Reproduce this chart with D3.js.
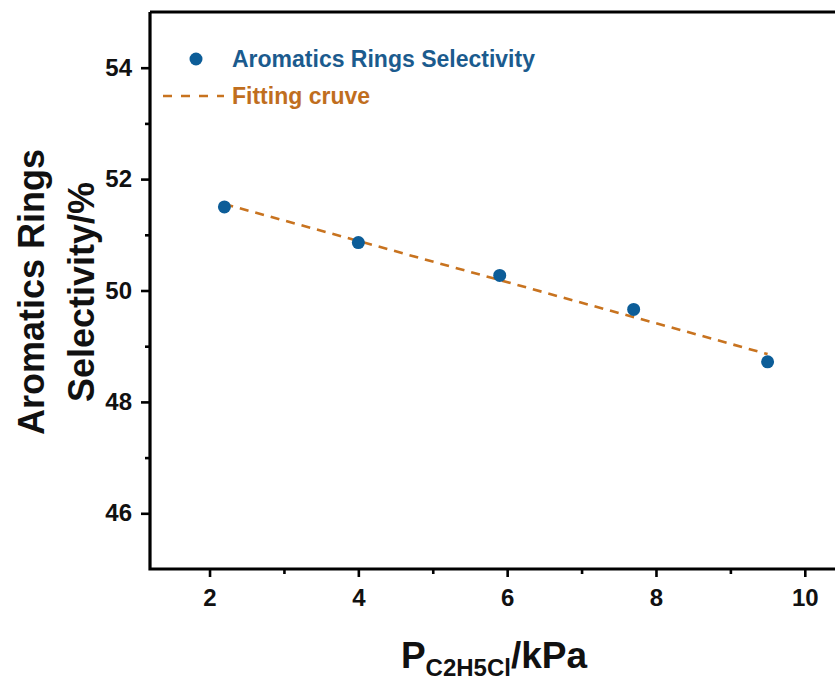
<!DOCTYPE html>
<html><head><meta charset="utf-8">
<script src="https://cdn.jsdelivr.net/npm/d3@7"></script>
<style>body{margin:0;background:#fff}svg{display:block}text{font-family:"Liberation Sans",Arial,sans-serif;font-weight:bold}</style>
</head><body><svg id="c" width="835" height="680"></svg>
<script>
const pressure = [2.2, 4.0, 5.9, 7.7, 9.5];
const selectivity = [51.5, 50.86, 50.27, 49.66, 48.72];
const xTicks = [2, 4, 6, 8, 10];
const yTicks = [46, 48, 50, 52, 54];
const seriesName = "Aromatics Rings Selectivity";
const fitName = "Fitting cruve";

const svg = d3.select("#c");
const L = 150, T = 12, B = 569, R = 842;
const x = d3.scaleLinear().domain([1.2, 10.5]).range([L, R]);
const y = d3.scaleLinear().domain([45, 55]).range([B, T]);

// linear fit
const n = pressure.length;
const mx = d3.mean(pressure), my = d3.mean(selectivity);
let sxy = 0, sxx = 0;
for (let i = 0; i < n; i++) { sxy += (pressure[i]-mx)*(selectivity[i]-my); sxx += (pressure[i]-mx)**2; }
const slope = sxy/sxx, icpt = my - slope*mx;
const fitX = [d3.min(pressure), d3.max(pressure)];

const blue = "#0c5d98", orange = "#c8731f";

svg.append("path")
  .attr("d", d3.line().x(d=>x(d)).y(d=>y(icpt+slope*d))(fitX))
  .attr("stroke", orange).attr("stroke-width", 2.6).attr("fill","none")
  .attr("stroke-dasharray", "9,7");

svg.selectAll("circle.pt").data(pressure).join("circle").attr("class","pt")
  .attr("cx", d=>x(d)).attr("cy", (d,i)=>y(selectivity[i])).attr("r", 6.5).attr("fill", blue);

// axes
const xAxis = d3.axisBottom(x).tickValues(xTicks).tickSize(8).tickPadding(12).tickFormat(d3.format("d"));
const xMinor = d3.axisBottom(x).tickValues([3,5,7,9]).tickSize(5).tickFormat("");
const yAxis = d3.axisLeft(y).tickValues(yTicks).tickSize(9).tickPadding(9).tickFormat(d3.format("d"));
const yMinor = d3.axisLeft(y).tickValues([47,49,51,53]).tickSize(5).tickFormat("");

function style(g){
  g.select(".domain").remove();
  g.selectAll("line").attr("stroke","#000").attr("stroke-width",2.6);
  g.selectAll("text").attr("font-size",24).attr("fill","#111");
}
svg.append("g").attr("transform",`translate(0,${B})`).call(xAxis).call(style);
svg.append("g").attr("transform",`translate(0,${B})`).call(xMinor).call(style);
svg.append("g").attr("transform",`translate(${L},0)`).call(yAxis).call(style);
svg.append("g").attr("transform",`translate(${L},0)`).call(yMinor).call(style);

// frame
svg.append("path").attr("d",`M${L},${T}V${B}H${R}M${L},${T}H${R}`)
  .attr("stroke","#000").attr("stroke-width",3.2).attr("fill","none");

// legend
svg.append("circle").attr("cx",196).attr("cy",59).attr("r",6.5).attr("fill",blue);
svg.append("text").attr("x",232).attr("y",67).attr("font-size",23).attr("fill","#1b5b8e").text(seriesName);
svg.append("line").attr("x1",163).attr("x2",224).attr("y1",96).attr("y2",96)
  .attr("stroke",orange).attr("stroke-width",2.6).attr("stroke-dasharray","9,9");
svg.append("text").attr("x",232).attr("y",104).attr("font-size",23).attr("fill","#c06e1e").text(fitName);

// y label
const yl = svg.append("text").attr("transform","translate(0,292) rotate(-90)").attr("text-anchor","middle").attr("font-size",36).attr("fill","#111");
yl.append("tspan").attr("x",0).attr("y",44).text("Aromatics Rings");
yl.append("tspan").attr("x",0).attr("y",94).text("Selectivity/%");

// x label
const xl = svg.append("text").attr("x",494).attr("y",668).attr("text-anchor","middle").attr("font-size",37).attr("fill","#111");
xl.append("tspan").text("P");
xl.append("tspan").attr("font-size",24).attr("dy",8).text("C2H5Cl");
xl.append("tspan").attr("dy",-8).text("/kPa");
</script></body></html>
